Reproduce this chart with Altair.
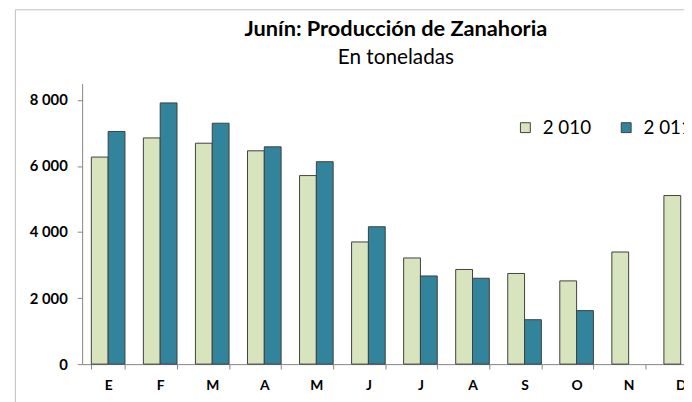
import json
import altair as alt
import pandas as pd

months = ["Ene", "Feb", "Mar", "Abr", "May", "Jun", "Jul", "Ago", "Sep", "Oct", "Nov", "Dic"]
month_labels = ["E", "F", "M", "A", "M", "J", "J", "A", "S", "O", "N", "D"]
series = ["2 010", "2 011"]
v2010 = [6270, 6850, 6690, 6460, 5710, 3700, 3215, 2866, 2745, 2520, 3395, 5105]
v2011 = [7045, 7910, 7295, 6580, 6130, 4160, 2670, 2600, 1345, 1620, None, None]
y_ticks = [0, 2000, 4000, 6000, 8000]
colors = ["#d7e4bd", "#31849b"]

rows = []
for i, m in enumerate(months):
    for s, vals in zip(series, [v2010, v2011]):
        if vals[i] is not None:
            rows.append({"mes": m, "serie": s, "valor": vals[i]})
df = pd.DataFrame(rows)

label_map = json.dumps(dict(zip(months, month_labels)))
FONT = "Lato"

bars = alt.Chart(df).mark_bar(stroke="#404040", strokeWidth=1).encode(
    x=alt.X(
        "mes:N",
        sort=months,
        scale=alt.Scale(domain=months, range=[0, 632], paddingInner=0.354, paddingOuter=0.177),
        axis=alt.Axis(
            title=None,
            labelAngle=0,
            labelExpr=f"{label_map}[datum.label]",
            labelFont=FONT,
            labelFontSize=14,
            labelFontWeight="bold",
            labelColor="black",
            labelPadding=10,
            tickBand="extent",
            tickSize=5,
            tickColor="#868686",
            domainColor="#868686",
            grid=False,
        ),
    ),
    xOffset=alt.XOffset("serie:N", sort=series, scale=alt.Scale(paddingInner=0, paddingOuter=0)),
    y=alt.Y(
        "valor:Q",
        scale=alt.Scale(domain=[0, 8500], nice=False),
        axis=alt.Axis(
            title=None,
            values=y_ticks,
            labelExpr="replace(format(datum.value, ','), ',', ' ')",
            labelFont=FONT,
            labelFontSize=15,
            labelFontWeight="bold",
            labelColor="black",
            labelPadding=10,
            tickSize=5,
            tickColor="#868686",
            domainColor="#868686",
            grid=False,
        ),
    ),
    color=alt.Color(
        "serie:N",
        sort=series,
        scale=alt.Scale(domain=series, range=colors),
        legend=alt.Legend(
            title=None,
            orient="none",
            legendX=439,
            legendY=35,
            direction="horizontal",
            symbolType="square",
            symbolSize=100,
            symbolStrokeColor="#404040",
            symbolStrokeWidth=1,
            symbolOpacity=1,
            labelFont=FONT,
            labelFontSize=19,
            labelColor="black",
            labelOffset=8,
            columnPadding=26,
            padding=0,
        ),
    ),
)

frame = alt.Chart(alt.Data(values=[{}])).mark_rect(
    fillOpacity=0, stroke="#c0c0c0", strokeWidth=1
).encode(
    x=alt.value(-67.5), x2=alt.value(700), y=alt.value(-74.5), y2=alt.value(330)
)

chart = alt.layer(frame, bars).properties(
    width=609,
    height=284,
    autosize=alt.AutoSizeParams(type="none"),
    padding={"left": 75, "top": 74, "right": 0, "bottom": 36},
    background="white",
    title=alt.TitleParams(
        text="Junín: Producción de Zanahoria",
        subtitle="En toneladas",
        font=FONT,
        fontSize=22,
        fontWeight="bold",
        color="black",
        subtitleFont=FONT,
        subtitleFontSize=21,
        subtitleColor="black",
        subtitlePadding=6,
        anchor="middle",
        frame="group",
        offset=-60,
        dx=13,
    ),
).configure_view(stroke=None)

chart.save("out.html", embed_options={"renderer": "svg", "actions": False})
